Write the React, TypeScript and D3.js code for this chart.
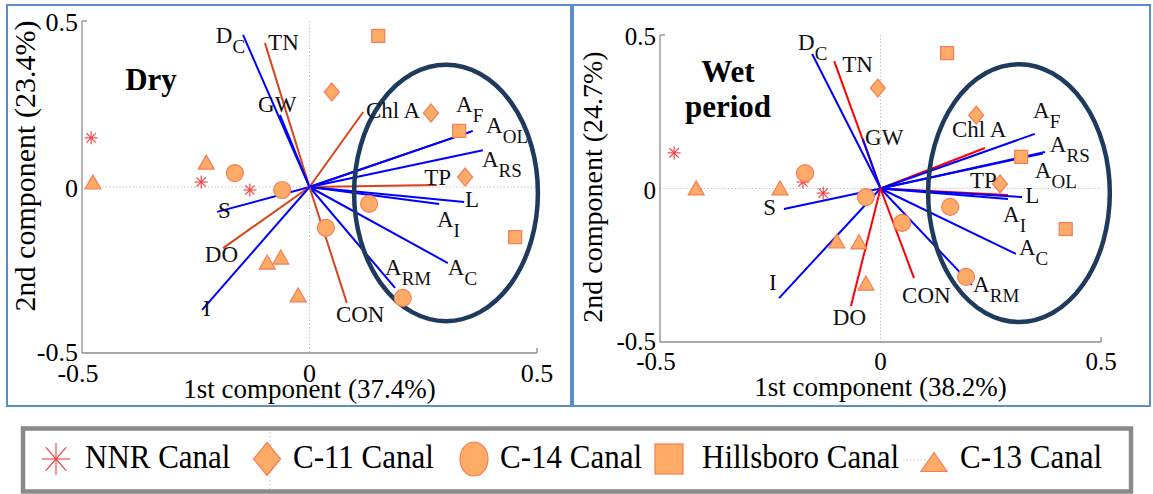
import React from 'react';
import * as d3 from 'd3';

type Vec = { label: string; sub?: string; kind: 'b' | 'r'; x: number; y: number; lx: number; ly: number };
type Pt = [number, number];

// ---------- DATA ----------
const seriesNames = ['NNR Canal', 'C-11 Canal', 'C-14 Canal', 'Hillsboro Canal', 'C-13 Canal'];
const seriesMarkers = ['star', 'diamond', 'circle', 'square', 'triangle'];
const tickValues = [-0.5, 0, 0.5];
const tickLabels = ['-0.5', '0', '0.5'];

const dryVectors: Vec[] = [
  { label: 'D', sub: 'C', kind: 'b', x: -0.146, y: 0.458, lx: -0.206, ly: 0.434 },
  { label: 'TN', kind: 'r', x: -0.098, y: 0.434, lx: -0.091, ly: 0.413 },
  { label: 'GW', kind: 'b', x: -0.065, y: 0.217, lx: -0.113, ly: 0.226 },
  { label: 'Chl A', kind: 'r', x: 0.118, y: 0.226, lx: 0.124, ly: 0.208 },
  { label: 'A', sub: 'F', kind: 'b', x: 0.359, y: 0.169, lx: 0.322, ly: 0.226 },
  { label: 'A', sub: 'OL', kind: 'b', x: 0.354, y: 0.166, lx: 0.388, ly: 0.163 },
  { label: 'A', sub: 'RS', kind: 'b', x: 0.381, y: 0.111, lx: 0.379, ly: 0.06 },
  { label: 'TP', kind: 'r', x: 0.28, y: 0.006, lx: 0.252, ly: 0.006 },
  { label: 'L', kind: 'b', x: 0.34, y: -0.045, lx: 0.342, ly: -0.06 },
  { label: 'A', sub: 'I', kind: 'b', x: 0.285, y: -0.051, lx: 0.28, ly: -0.12 },
  { label: 'A', sub: 'C', kind: 'b', x: 0.304, y: -0.229, lx: 0.304, ly: -0.265 },
  { label: 'A', sub: 'RM', kind: 'b', x: 0.188, y: -0.304, lx: 0.166, ly: -0.265 },
  { label: 'CON', kind: 'r', x: 0.082, y: -0.349, lx: 0.058, ly: -0.407 },
  { label: 'S', kind: 'b', x: -0.203, y: -0.075, lx: -0.201, ly: -0.093 },
  { label: 'DO', kind: 'r', x: -0.19, y: -0.184, lx: -0.23, ly: -0.226 },
  { label: 'I', kind: 'b', x: -0.236, y: -0.37, lx: -0.234, ly: -0.389 },
];

const wetVectors: Vec[] = [
  { label: 'D', sub: 'C', kind: 'b', x: -0.155, y: 0.438, lx: -0.187, ly: 0.451 },
  { label: 'TN', kind: 'r', x: -0.105, y: 0.415, lx: -0.087, ly: 0.379 },
  { label: 'GW', kind: 'b', x: -0.04, y: 0.161, lx: -0.035, ly: 0.142 },
  { label: 'Chl A', kind: 'r', x: 0.237, y: 0.132, lx: 0.162, ly: 0.168 },
  { label: 'A', sub: 'F', kind: 'b', x: 0.35, y: 0.178, lx: 0.346, ly: 0.23 },
  { label: 'A', sub: 'RS', kind: 'b', x: 0.373, y: 0.119, lx: 0.384, ly: 0.119 },
  { label: 'A', sub: 'OL', kind: 'b', x: 0.368, y: 0.114, lx: 0.35, ly: 0.034 },
  { label: 'TP', kind: 'r', x: 0.289, y: -0.021, lx: 0.203, ly: 0.002 },
  { label: 'L', kind: 'b', x: 0.321, y: -0.028, lx: 0.328, ly: -0.047 },
  { label: 'A', sub: 'I', kind: 'b', x: 0.289, y: -0.034, lx: 0.278, ly: -0.109 },
  { label: 'A', sub: 'C', kind: 'b', x: 0.307, y: -0.213, lx: 0.314, ly: -0.217 },
  { label: 'A', sub: 'RM', kind: 'b', x: 0.207, y: -0.314, lx: 0.21, ly: -0.337 },
  { label: 'CON', kind: 'r', x: 0.076, y: -0.292, lx: 0.049, ly: -0.373 },
  { label: 'S', kind: 'b', x: -0.219, y: -0.067, lx: -0.266, ly: -0.086 },
  { label: 'I', kind: 'b', x: -0.23, y: -0.357, lx: -0.253, ly: -0.331 },
  { label: 'DO', kind: 'r', x: -0.067, y: -0.383, lx: -0.108, ly: -0.445 },
];

const dryNNR: Pt[] = [[-0.48, 0.148], [-0.238, 0.015], [-0.131, -0.009]];
const dryC11: Pt[] = [[0.049, 0.286], [0.267, 0.223], [0.342, 0.03]];
const dryC14: Pt[] = [[-0.164, 0.042], [-0.06, -0.009], [0.131, -0.051], [0.036, -0.123], [0.205, -0.334]];
const dryHills: Pt[] = [[0.151, 0.455], [0.329, 0.169], [0.452, -0.151]];
const dryC13: Pt[] = [[-0.476, 0.015], [-0.227, 0.075], [-0.093, -0.226], [-0.063, -0.211], [-0.025, -0.325]];

const wetNNR: Pt[] = [[-0.468, 0.116], [-0.176, 0.021], [-0.13, -0.015]];
const wetC11: Pt[] = [[-0.006, 0.327], [0.217, 0.239], [0.271, 0.015]];
const wetC14: Pt[] = [[-0.171, 0.05], [-0.033, -0.028], [0.158, -0.06], [0.049, -0.112], [0.194, -0.288]];
const wetHills: Pt[] = [[0.151, 0.441], [0.319, 0.103], [0.42, -0.132]];
const wetC13: Pt[] = [[-0.418, 0.002], [-0.228, 0.002], [-0.099, -0.171], [-0.049, -0.174], [-0.033, -0.308]];

const dryEllipse = { cx: 0.3, cy: -0.018, rx: 0.202, ry: 0.386 };
const wetEllipse = { cx: 0.314, cy: -0.015, rx: 0.206, ry: 0.42 };

// ---------- STYLE ----------
const FONT = 'Liberation Serif';
const FILL = '#fdab66';
const EDGE = '#f47d55';
const STAR = '#f03a3a';
const BLUE = '#0000ff';
const FRAME = '#5b8ccc';
const AXIS = '#8c8c8c';
const ELLIPSE = '#1e3a5c';

function Marker({ type, x, y, w, h }: { type: string; x: number; y: number; w: number; h: number }) {
  const hw = w / 2, hh = h / 2;
  if (type === 'star') {
    const dx = hw * 0.72, dy = hh * 0.72;
    return (
      <g stroke={STAR} strokeWidth={1.1}>
        <line x1={x - hw} y1={y} x2={x + hw} y2={y} />
        <line x1={x} y1={y - hh} x2={x} y2={y + hh} />
        <line x1={x - dx} y1={y - dy} x2={x + dx} y2={y + dy} />
        <line x1={x - dx} y1={y + dy} x2={x + dx} y2={y - dy} />
      </g>
    );
  }
  if (type === 'diamond')
    return <polygon points={`${x},${y - hh} ${x + hw},${y} ${x},${y + hh} ${x - hw},${y}`} fill={FILL} stroke={EDGE} strokeWidth={1.2} />;
  if (type === 'circle') return <ellipse cx={x} cy={y} rx={hw} ry={hh} fill={FILL} stroke={EDGE} strokeWidth={1.2} />;
  if (type === 'square') return <rect x={x - hw} y={y - hh} width={w} height={h} fill={FILL} stroke={EDGE} strokeWidth={1.2} />;
  return <polygon points={`${x},${y - hh} ${x + hw},${y + hh} ${x - hw},${y + hh}`} fill={FILL} stroke={EDGE} strokeWidth={1.2} />;
}

const markerSize: Record<string, [number, number]> = {
  star: [13, 13],
  diamond: [15, 18],
  circle: [17, 17],
  square: [13, 13],
  triangle: [16, 14],
};

type Cfg = {
  x0: number; x1: number; y0: number; y1: number;
  red: string; title: string[]; titleX: number; titleY: number;
  xlabel: string; xlabelY: number; ylabel: string; ylabelX: number; ylabelY: number; ylabelSize: number;
  tickSize: number; xtickY: number;
};

function Panel({ cfg, vectors, points, ellipse }: { cfg: Cfg; vectors: Vec[]; points: Pt[][]; ellipse: typeof dryEllipse }) {
  const xs = d3.scaleLinear().domain([-0.5, 0.5]).range([cfg.x0, cfg.x1]);
  const ys = d3.scaleLinear().domain([-0.5, 0.5]).range([cfg.y0, cfg.y1]);
  const ox = xs(0), oy = ys(0);
  return (
    <g>
      <line x1={ox} x2={ox} y1={ys(0.5)} y2={ys(-0.5)} stroke="#b8b8b8" strokeDasharray="1.2,2.2" />
      <line x1={xs(-0.5)} x2={xs(0.5)} y1={oy} y2={oy} stroke="#b8b8b8" strokeDasharray="1.2,2.2" />
      <line x1={cfg.x0} x2={cfg.x0} y1={ys(0.5)} y2={ys(-0.5)} stroke={AXIS} strokeWidth={1.3} />
      <line x1={cfg.x0} x2={xs(0.5)} y1={ys(-0.5)} y2={ys(-0.5)} stroke={AXIS} strokeWidth={1.3} />
      <line x1={cfg.x0} x2={cfg.x0 + 5} y1={ys(0.5)} y2={ys(0.5)} stroke={AXIS} strokeWidth={1.3} />
      <line x1={xs(0.5)} x2={xs(0.5)} y1={ys(-0.5)} y2={ys(-0.5) - 5} stroke={AXIS} strokeWidth={1.3} />
      {tickValues.map((t, i) => (
        <text key={'y' + i} x={cfg.x0 - 4} y={ys(t) + (t < 0 ? 8 : 10)} textAnchor="end" fontSize={cfg.tickSize}>{tickLabels[i]}</text>
      ))}
      {tickValues.map((t, i) => (
        <text key={'x' + i} x={xs(t) - (t < 0 ? 4 : 0)} y={cfg.xtickY} textAnchor="middle" fontSize={cfg.tickSize}>{tickLabels[i]}</text>
      ))}
      <text x={ox} y={cfg.xlabelY} textAnchor="middle" fontSize={27}>{cfg.xlabel}</text>
      <text transform={`translate(${cfg.ylabelX},${cfg.ylabelY}) rotate(-90)`} textAnchor="middle" fontSize={cfg.ylabelSize}>{cfg.ylabel}</text>
      {cfg.title.map((t, i) => (
        <text key={t} x={cfg.titleX} y={cfg.titleY + i * 35} textAnchor="middle" fontSize={31} fontWeight="bold">{t}</text>
      ))}
      {vectors.map((v, i) => (
        <line key={'v' + i} x1={ox} y1={oy} x2={xs(v.x)} y2={ys(v.y)} stroke={v.kind === 'b' ? BLUE : cfg.red} strokeWidth={2} />
      ))}
      <ellipse cx={xs(ellipse.cx)} cy={ys(ellipse.cy)} rx={xs(ellipse.rx) - ox} ry={oy - ys(ellipse.ry)} fill="none" stroke={ELLIPSE} strokeWidth={4.5} />
      {points.map((ser, si) =>
        ser.map((p, pi) => {
          const type = seriesMarkers[si];
          const [w, h] = markerSize[type];
          return <Marker key={si + '-' + pi} type={type} x={xs(p[0])} y={ys(p[1])} w={w} h={h} />;
        })
      )}
      {vectors.map((v, i) => (
        <text key={'l' + i} x={xs(v.lx)} y={ys(v.ly)} fontSize={23} fill="#111">
          {v.label}
          {v.sub && <tspan dy={10} fontSize={19}>{v.sub}</tspan>}
        </text>
      ))}
    </g>
  );
}

const legendX = [56, 267, 474, 669, 934];
const legendTextX = [85, 293, 500, 702, 960];
const legendMarkerSize: [number, number][] = [[28, 32], [27, 33], [28, 34], [28, 30], [26, 19]];

export default function App() {
  const dryCfg: Cfg = {
    x0: 82, x1: 537, y0: 353, y1: 21, red: '#d9431c', title: ['Dry'], titleX: 151, titleY: 90,
    xlabel: '1st component (37.4%)', xlabelY: 398, ylabel: '2nd component (23.4%)', ylabelX: 35, ylabelY: 166, ylabelSize: 30,
    tickSize: 26, xtickY: 382,
  };
  const wetCfg: Cfg = {
    x0: 660, x1: 1101, y0: 342, y1: 35, red: '#ff0000', title: ['Wet', 'period'], titleX: 728, titleY: 82,
    xlabel: '1st component (38.2%)', xlabelY: 396, ylabel: '2nd component (24.7%)', ylabelX: 602, ylabelY: 187, ylabelSize: 28,
    tickSize: 25, xtickY: 370,
  };
  return (
    <svg width={1153} height={494} fontFamily={FONT} style={{ position: 'absolute', left: 0, top: 0, background: '#fff' }}>
      <rect x={0} y={0} width={1153} height={494} fill="#fff" />
      <rect x={7} y={5} width={564} height={401} fill="none" stroke={FRAME} strokeWidth={2} />
      <rect x={573} y={5} width={577} height={401} fill="none" stroke={FRAME} strokeWidth={2} />
      <Panel cfg={dryCfg} vectors={dryVectors} points={[dryNNR, dryC11, dryC14, dryHills, dryC13]} ellipse={dryEllipse} />
      <Panel cfg={wetCfg} vectors={wetVectors} points={[wetNNR, wetC11, wetC14, wetHills, wetC13]} ellipse={wetEllipse} />
      <g>
        <rect x={23} y={428.5} width={1108} height={63} fill="#fff" stroke="#8a8a8a" strokeWidth={4.5} />
        <line x1={270} x2={270} y1={432} y2={489} stroke="#c8c8c8" strokeDasharray="1.5,2.5" />
        <line x1={903} x2={926} y1={460} y2={460} stroke="#c8c8c8" strokeDasharray="1.5,2" />
        {seriesNames.map((n, i) => (
          <g key={n}>
            <Marker type={seriesMarkers[i]} x={legendX[i]} y={i === 4 ? 462 : 459} w={legendMarkerSize[i][0]} h={legendMarkerSize[i][1]} />
            <text transform={`translate(${legendTextX[i]},468) scale(1,1.12)`} fontSize={31} fill="#000">{n}</text>
          </g>
        ))}
      </g>
    </svg>
  );
}
